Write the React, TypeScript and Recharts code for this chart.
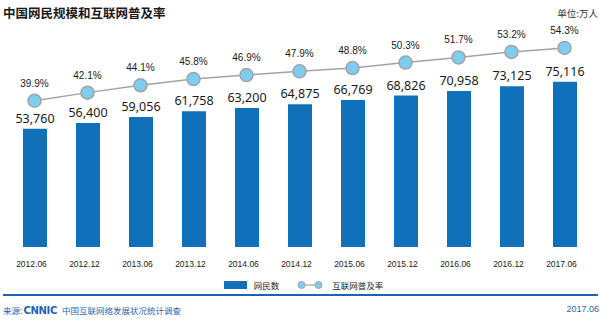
import {
  ComposedChart,
  Bar,
  Line,
  XAxis,
  YAxis,
  Legend,
  LabelList,
} from "recharts";

const periods = [
  "2012.06", "2012.12", "2013.06", "2013.12", "2014.06", "2014.12",
  "2015.06", "2015.12", "2016.06", "2016.12", "2017.06",
];
const netizens = [53760, 56400, 59056, 61758, 63200, 64875, 66769, 68826, 70958, 73125, 75116];
const penetration = [39.9, 42.1, 44.1, 45.8, 46.9, 47.9, 48.8, 50.3, 51.7, 53.2, 54.3];

const data = periods.map((p, i) => ({
  period: p,
  users: netizens[i],
  rate: penetration[i],
}));

const BLUE = "#1170BA";
const DOT = "#7CCDF0";
const GREY = "#A3A3A3";
const FOOT_BLUE = "#2A66B0";
const NARROW = '"Liberation Sans Narrow", "Liberation Sans", sans-serif';

const PeriodTick = (props: any) => {
  const { x, y, payload } = props;
  return (
    <text x={x - 3} y={y + 12} textAnchor="middle" fontSize={8.5} fill="#222" fontFamily={NARROW}>
      {payload.value}
    </text>
  );
};

const LegendContent = () => (
  <div
    style={{
      display: "flex",
      justifyContent: "center",
      alignItems: "center",
      fontFamily: '"Noto Sans CJK SC", sans-serif',
      fontSize: 8.5,
      color: "#222",
      height: 16,
      paddingLeft: 6,
    }}
  >
    <span style={{ display: "inline-block", width: 23, height: 8, background: BLUE }} />
    <span style={{ marginLeft: 7 }}>网民数</span>
    <svg width={26} height={10} style={{ marginLeft: 18 }}>
      <line x1={4} y1={5} x2={22} y2={5} stroke={GREY} strokeWidth={1.2} />
      <circle cx={4.5} cy={5} r={3.5} fill={DOT} stroke={GREY} strokeWidth={1} />
      <circle cx={21.5} cy={5} r={3.5} fill={DOT} stroke={GREY} strokeWidth={1} />
    </svg>
    <span style={{ marginLeft: 9 }}>互联网普及率</span>
  </div>
);

export default function App() {
  return (
    <div
      style={{
        position: "absolute",
        left: 0,
        top: 0,
        width: 601,
        height: 321,
        background: "#fff",
        fontFamily: '"Noto Sans CJK SC", sans-serif',
      }}
    >
      <div
        style={{
          position: "absolute",
          left: 3,
          top: 3,
          fontSize: 12.5,
          fontWeight: 700,
          color: "#1a1a1a",
          whiteSpace: "nowrap",
        }}
      >
        中国网民规模和互联网普及率
      </div>
      <div
        style={{
          position: "absolute",
          right: 3,
          top: 6,
          fontSize: 9.5,
          color: "#333",
        }}
      >
        单位:万人
      </div>

      <ComposedChart
        width={601}
        height={321}
        data={data}
        margin={{ top: 27, right: 10, left: 8, bottom: 44 }}
        barCategoryGap={0}
      >
        <XAxis
          dataKey="period"
          axisLine={false}
          tickLine={false}
          height={30}
          interval={0}
          tick={<PeriodTick />}
        />
        <YAxis yAxisId="users" hide domain={[0, 100000]} />
        <YAxis yAxisId="rate" orientation="right" hide domain={[0, 60]} />
        <Legend
          verticalAlign="middle"
          align="center"
          layout="horizontal"
          content={<LegendContent />}
          wrapperStyle={{ top: 277, left: 0, width: 601 }}
        />
        <Bar yAxisId="users" dataKey="users" name="网民数" fill={BLUE} barSize={24} isAnimationActive={false}>
          <LabelList
            dataKey="users"
            position="top"
            offset={6}
            formatter={(v: any) => Number(v).toLocaleString("en-US")}
            style={{ fontSize: 12.5, fill: "#1a1a1a", fontFamily: '"Noto Sans", sans-serif' }}
          />
        </Bar>
        <Line
          yAxisId="rate"
          dataKey="rate"
          name="互联网普及率"
          stroke={GREY}
          strokeWidth={1.5}
          dot={{ r: 6.5, fill: DOT, stroke: GREY, strokeWidth: 1.5 }}
          activeDot={false}
          isAnimationActive={false}
        >
          <LabelList
            dataKey="rate"
            position="top"
            offset={14}
            formatter={(v: any) => `${Number(v).toFixed(1)}%`}
            style={{ fontSize: 10, fill: "#1a1a1a", fontFamily: NARROW }}
          />
        </Line>
      </ComposedChart>

      <div
        style={{
          position: "absolute",
          left: 3,
          top: 294,
          width: 595,
          height: 2,
          background: "#1F62AE",
        }}
      />
      <div
        style={{
          position: "absolute",
          left: 3,
          top: 304,
          display: "flex",
          alignItems: "center",
          fontSize: 8.5,
          color: FOOT_BLUE,
          whiteSpace: "nowrap",
        }}
      >
        <span>来源:</span>
        <span
          style={{
            fontFamily: '"DejaVu Sans", sans-serif',
            fontWeight: 900,
            fontSize: 10,
            letterSpacing: -0.3,
            marginLeft: 1,
            color: "#1E63B4",
          }}
        >
          CNNIC
        </span>
        <span style={{ marginLeft: 5 }}>中国互联网络发展状况统计调查</span>
      </div>
      <div
        style={{
          position: "absolute",
          right: 2,
          top: 304,
          fontSize: 9,
          color: FOOT_BLUE,
          fontFamily: NARROW,
        }}
      >
        2017.06
      </div>
    </div>
  );
}
